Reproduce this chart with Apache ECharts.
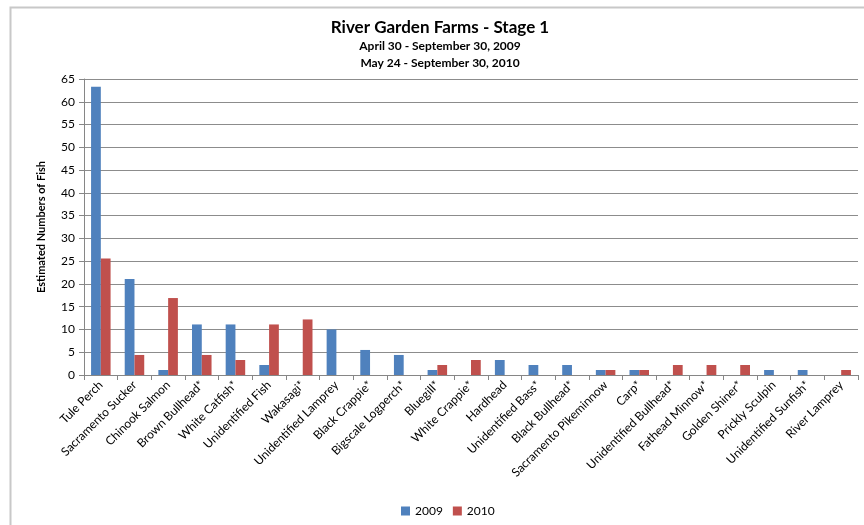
<!DOCTYPE html>
<html>
<head>
<meta charset="utf-8">
<script src="https://cdn.jsdelivr.net/npm/echarts@6/dist/echarts.min.js"></script>
<style>html,body{margin:0;padding:0;background:#fff}#c{width:864px;height:525px}</style>
</head>
<body>
<div id="c"></div>
<script>
const categories = ["Tule Perch","Sacramento Sucker","Chinook Salmon","Brown Bullhead*","White Catfish*","Unidentified Fish","Wakasagi*","Unidentified Lamprey","Black Crappie*","Bigscale Logperch*","Bluegill*","White Crappie*","Hardhead","Unidentified Bass*","Black Bullhead*","Sacramento Pikeminnow","Carp*","Unidentified Bullhead*","Fathead Minnow*","Golden Shiner*","Prickly Sculpin","Unidentified Sunfish*","River Lamprey"];
const values2009 = [63.3,21.1,1.1,11.1,11.1,2.2,0,10.0,5.5,4.4,1.1,0,3.3,2.2,2.2,1.1,1.1,0,0,0,1.1,1.1,0];
const values2010 = [25.6,4.4,16.9,4.4,3.3,11.1,12.2,0,0,0,2.2,3.3,0,0,0,1.1,1.1,2.2,2.2,2.2,0,0,1.1];
const yTicks = [0,5,10,15,20,25,30,35,40,45,50,55,60,65];

const font = "Lato, 'Liberation Sans', Arial, sans-serif";
const chart = echarts.init(document.getElementById('c'), null, {renderer:'canvas'});
chart.setOption({
  animation:false,
  textStyle:{fontFamily:font},
  graphic:[{type:'rect',shape:{x:10.5,y:7.5,width:870,height:530},style:{fill:'none',stroke:'#c8c8c8',lineWidth:2},silent:true}],
  title:[
    {text:'River Garden Farms - Stage 1',left:440,textAlign:'center',top:19,padding:0,textStyle:{fontFamily:font,fontSize:17,fontWeight:'bold',color:'#000'}},
    {text:'April 30 - September 30, 2009',left:440,textAlign:'center',top:40,padding:0,textStyle:{fontFamily:font,fontSize:12,fontWeight:'bold',color:'#000'}},
    {text:'May 24 - September 30, 2010',left:440,textAlign:'center',top:57,padding:0,textStyle:{fontFamily:font,fontSize:12,fontWeight:'bold',color:'#000'}}
  ],
  legend:{top:500,left:396,itemWidth:9,itemHeight:9,itemGap:10,icon:'rect',textStyle:{fontFamily:font,fontSize:12,color:'#000'},data:['2009','2010']},
  grid:{left:84,right:6,top:79,bottom:150,containLabel:false},
  xAxis:{type:'category',data:categories,
    axisLine:{lineStyle:{color:'#868686'}},
    axisTick:{show:true,length:5,lineStyle:{color:'#868686'}},
    axisLabel:{interval:0,rotate:45,fontSize:12,color:'#000',fontFamily:font,margin:8}},
  yAxis:{type:'value',min:0,max:65,interval:5,
    name:'Estimated Numbers of Fish',nameLocation:'middle',nameGap:37,nameRotate:90,
    nameTextStyle:{fontFamily:font,fontSize:11,fontWeight:'bold',color:'#000'},
    axisLine:{show:true,lineStyle:{color:'#868686'}},
    axisTick:{show:true,length:5,lineStyle:{color:'#868686'}},
    axisLabel:{fontSize:12,color:'#000',fontFamily:font,margin:9},
    splitLine:{lineStyle:{color:'#8c8c8c',width:1}}},
  series:[
    {name:'2009',type:'bar',data:values2009,barGap:'0%',barCategoryGap:'42%',itemStyle:{color:'#4F81BD'}},
    {name:'2010',type:'bar',data:values2010,itemStyle:{color:'#C0504D'}}
  ]
});
</script>
</body>
</html>
